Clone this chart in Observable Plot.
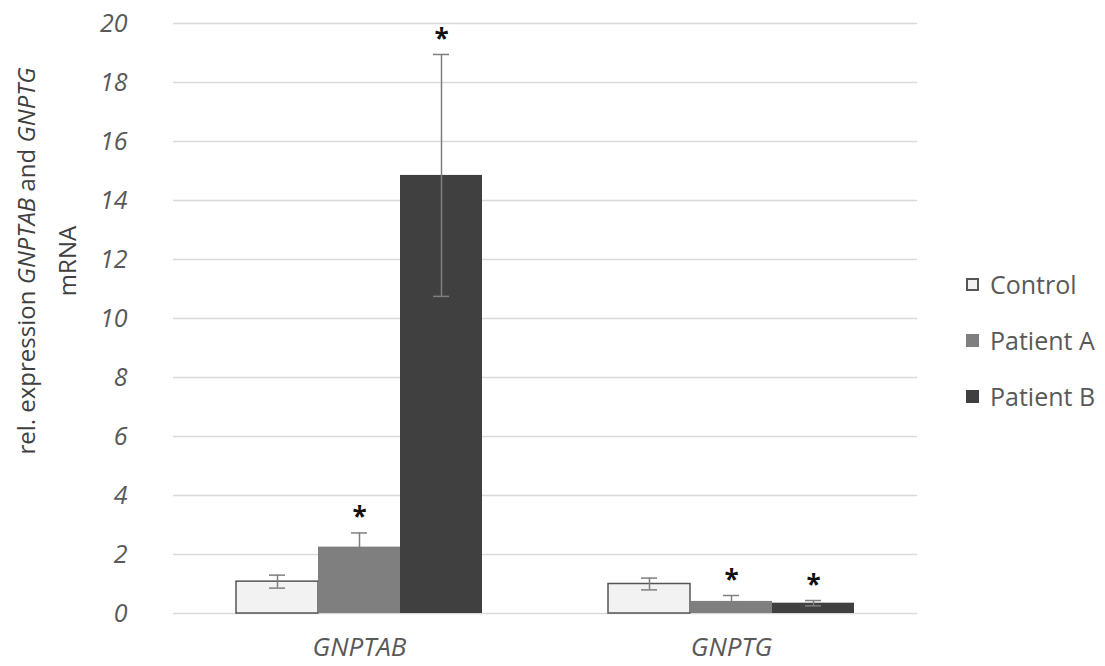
<!DOCTYPE html>
<html><head><meta charset="utf-8">
<script src="https://cdn.jsdelivr.net/npm/d3@7"></script>
<script src="https://cdn.jsdelivr.net/npm/@observablehq/plot@0.6"></script>
<style>
body{margin:0;background:#fff;font-family:"Open Sans",sans-serif;}
#wrap{position:relative;width:1105px;height:666px;}
#legend{position:absolute;left:966px;top:256px;}
.item{display:flex;align-items:center;height:56px;font-size:25px;color:#595959}
.sw{width:13px;height:13px;margin-right:11px;box-sizing:border-box}
</style></head><body><div id="wrap"></div>
<script>
const genes = ["GNPTAB", "GNPTG"];
const groups = ["Control", "Patient A", "Patient B"];
const colors = ["#f2f2f2", "#7f7f7f", "#404040"];
const gnptabMean = [1.08, 2.25, 14.85];
const gnptabErr = [0.22, 0.48, 4.1];
const gnptgMean = [1.0, 0.41, 0.35];
const gnptgErr = [0.2, 0.2, 0.09];
const gnptabSig = [false, true, true];
const gnptgSig = [false, true, true];
const yTicks = [0, 2, 4, 6, 8, 10, 12, 14, 16, 18, 20];

const data = [];
groups.forEach((g, i) => {
  data.push({gene: genes[0], group: g, mean: gnptabMean[i], err: gnptabErr[i], sig: gnptabSig[i]});
});
groups.forEach((g, i) => {
  data.push({gene: genes[1], group: g, mean: gnptgMean[i], err: gnptgErr[i], sig: gnptgSig[i]});
});
data.forEach(d => { d.lo = d.mean - d.err; d.hi = d.mean + d.err; });

const plot = Plot.plot({
  width: 1105,
  height: 666,
  marginLeft: 172,
  marginRight: 188,
  marginTop: 23,
  marginBottom: 53,
  style: {fontFamily: "'Open Sans', sans-serif", background: "white"},
  fx: {domain: genes, padding: 0, label: null},
  x: {domain: groups, paddingInner: 0, paddingOuter: 0.76, axis: null},
  y: {domain: [0, 20], label: null},
  color: {domain: groups, range: colors},
  marks: [
    Plot.gridY(yTicks, {stroke: "#d9d9d9", strokeOpacity: 1, strokeWidth: 1.5}),
    Plot.axisY({ticks: yTicks, tickSize: 0, tickPadding: 46, fontSize: 25, fontStyle: "italic", fill: "#595959", label: null}),
    Plot.axisFx({anchor: "bottom", tickSize: 0, tickPadding: 24, fontSize: 26, fontStyle: "italic", fill: "#595959", label: null}),
    Plot.barY(data, {fx: "gene", x: "group", y: "mean", fill: "group",
      stroke: d => d.group === "Control" ? "#555555" : "none", strokeWidth: 1.5}),
    Plot.ruleX(data, {fx: "gene", x: "group", y1: "lo", y2: "hi", stroke: "#7f7f7f", strokeWidth: 1.5}),
    Plot.tickY(data, {fx: "gene", x: "group", y: "hi", stroke: "#7f7f7f", strokeWidth: 1.5, insetLeft: 33, insetRight: 33}),
    Plot.tickY(data, {fx: "gene", x: "group", y: "lo", stroke: "#7f7f7f", strokeWidth: 1.5, insetLeft: 33, insetRight: 33}),
    Plot.text(data.filter(d => d.sig), {fx: "gene", x: "group", y: "hi", text: () => "*", dy: -15, fontSize: 26, fontWeight: "bold", fill: "#111"})
  ]
});
const wrap = document.getElementById("wrap");
wrap.appendChild(plot);

// rotated two-line y-axis title with italic gene names
const svg = d3.select(plot);
const t = svg.append("text")
  .attr("transform", "translate(29,261) rotate(-90)")
  .attr("text-anchor", "middle")
  .attr("dominant-baseline", "middle")
  .attr("font-size", 24)
  .attr("fill", "#404040")
  .style("font-family", "'Open Sans', sans-serif");
[["rel. expression ", false], ["GNPTAB", true], [" and ", false], ["GNPTG", true]].forEach(([s, it]) => {
  t.append("tspan").attr("font-style", it ? "italic" : "normal").text(s);
});
svg.append("text")
  .attr("transform", "translate(70,261) rotate(-90)")
  .attr("text-anchor", "middle")
  .attr("dominant-baseline", "middle")
  .attr("font-size", 24)
  .attr("fill", "#404040")
  .style("font-family", "'Open Sans', sans-serif")
  .text("mRNA");

// legend
const leg = document.createElement("div");
leg.id = "legend";
groups.forEach((g, i) => {
  const it = document.createElement("div");
  it.className = "item";
  const sw = document.createElement("div");
  sw.className = "sw";
  sw.style.background = colors[i];
  if (g === "Control") sw.style.border = "2px solid #555";
  const lab = document.createElement("span");
  lab.textContent = g;
  it.appendChild(sw); it.appendChild(lab);
  leg.appendChild(it);
});
wrap.appendChild(leg);
</script></body></html>
